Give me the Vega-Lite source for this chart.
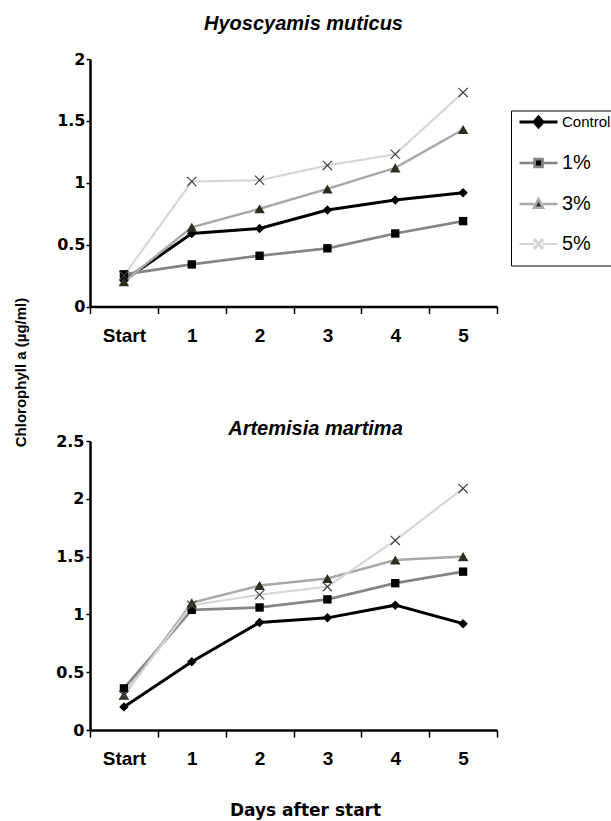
{
  "$schema": "https://vega.github.io/schema/vega-lite/v6.json",
  "background": "white",
  "padding": {"left": 13, "top": 14, "right": 0, "bottom": 5},
  "bounds": "flush",
  "spacing": 134,
  "config": {
    "view": {"stroke": null},
    "font": "Liberation Sans",
    "axis": {
      "grid": false,
      "domainColor": "black",
      "domainWidth": 2.5,
      "tickColor": "black",
      "tickWidth": 1.5,
      "labelColor": "black",
      "labelFontWeight": "bold",
      "titleColor": "black"
    }
  },
  "data": {
    "values": [
      {"plant": "Hyoscyamis muticus", "series": "Control", "day": 0, "value": 0.21},
      {"plant": "Hyoscyamis muticus", "series": "Control", "day": 1, "value": 0.59},
      {"plant": "Hyoscyamis muticus", "series": "Control", "day": 2, "value": 0.63},
      {"plant": "Hyoscyamis muticus", "series": "Control", "day": 3, "value": 0.78},
      {"plant": "Hyoscyamis muticus", "series": "Control", "day": 4, "value": 0.86},
      {"plant": "Hyoscyamis muticus", "series": "Control", "day": 5, "value": 0.92},
      {"plant": "Hyoscyamis muticus", "series": "1%", "day": 0, "value": 0.26},
      {"plant": "Hyoscyamis muticus", "series": "1%", "day": 1, "value": 0.34},
      {"plant": "Hyoscyamis muticus", "series": "1%", "day": 2, "value": 0.41},
      {"plant": "Hyoscyamis muticus", "series": "1%", "day": 3, "value": 0.47},
      {"plant": "Hyoscyamis muticus", "series": "1%", "day": 4, "value": 0.59},
      {"plant": "Hyoscyamis muticus", "series": "1%", "day": 5, "value": 0.69},
      {"plant": "Hyoscyamis muticus", "series": "3%", "day": 0, "value": 0.2},
      {"plant": "Hyoscyamis muticus", "series": "3%", "day": 1, "value": 0.64},
      {"plant": "Hyoscyamis muticus", "series": "3%", "day": 2, "value": 0.79},
      {"plant": "Hyoscyamis muticus", "series": "3%", "day": 3, "value": 0.95},
      {"plant": "Hyoscyamis muticus", "series": "3%", "day": 4, "value": 1.12},
      {"plant": "Hyoscyamis muticus", "series": "3%", "day": 5, "value": 1.43},
      {"plant": "Hyoscyamis muticus", "series": "5%", "day": 0, "value": 0.25},
      {"plant": "Hyoscyamis muticus", "series": "5%", "day": 1, "value": 1.01},
      {"plant": "Hyoscyamis muticus", "series": "5%", "day": 2, "value": 1.02},
      {"plant": "Hyoscyamis muticus", "series": "5%", "day": 3, "value": 1.14},
      {"plant": "Hyoscyamis muticus", "series": "5%", "day": 4, "value": 1.23},
      {"plant": "Hyoscyamis muticus", "series": "5%", "day": 5, "value": 1.73},
      {"plant": "Artemisia martima", "series": "Control", "day": 0, "value": 0.2},
      {"plant": "Artemisia martima", "series": "Control", "day": 1, "value": 0.59},
      {"plant": "Artemisia martima", "series": "Control", "day": 2, "value": 0.93},
      {"plant": "Artemisia martima", "series": "Control", "day": 3, "value": 0.97},
      {"plant": "Artemisia martima", "series": "Control", "day": 4, "value": 1.08},
      {"plant": "Artemisia martima", "series": "Control", "day": 5, "value": 0.92},
      {"plant": "Artemisia martima", "series": "1%", "day": 0, "value": 0.36},
      {"plant": "Artemisia martima", "series": "1%", "day": 1, "value": 1.04},
      {"plant": "Artemisia martima", "series": "1%", "day": 2, "value": 1.06},
      {"plant": "Artemisia martima", "series": "1%", "day": 3, "value": 1.13},
      {"plant": "Artemisia martima", "series": "1%", "day": 4, "value": 1.27},
      {"plant": "Artemisia martima", "series": "1%", "day": 5, "value": 1.37},
      {"plant": "Artemisia martima", "series": "3%", "day": 0, "value": 0.3},
      {"plant": "Artemisia martima", "series": "3%", "day": 1, "value": 1.1},
      {"plant": "Artemisia martima", "series": "3%", "day": 2, "value": 1.25},
      {"plant": "Artemisia martima", "series": "3%", "day": 3, "value": 1.31},
      {"plant": "Artemisia martima", "series": "3%", "day": 4, "value": 1.47},
      {"plant": "Artemisia martima", "series": "3%", "day": 5, "value": 1.5},
      {"plant": "Artemisia martima", "series": "5%", "day": 0, "value": 0.3},
      {"plant": "Artemisia martima", "series": "5%", "day": 1, "value": 1.08},
      {"plant": "Artemisia martima", "series": "5%", "day": 2, "value": 1.17},
      {"plant": "Artemisia martima", "series": "5%", "day": 3, "value": 1.24},
      {"plant": "Artemisia martima", "series": "5%", "day": 4, "value": 1.64},
      {"plant": "Artemisia martima", "series": "5%", "day": 5, "value": 2.09}
    ]
  },
  "resolve": {
    "scale": {"x": "independent", "y": "independent", "stroke": "shared", "strokeWidth": "shared"},
    "legend": {"stroke": "shared"}
  },
  "vconcat": [
    {
      "width": 407,
      "height": 247.5,
      "title": {
        "text": "Hyoscyamis muticus",
        "font": "Liberation Sans",
        "fontSize": 20,
        "fontStyle": "italic",
        "fontWeight": "bold",
        "color": "black",
        "frame": "group",
        "baseline": "alphabetic",
        "offset": 1,
        "dx": 10
      },
      "transform": [{"filter": "datum.plant === 'Hyoscyamis muticus'"}],
      "encoding": {
        "x": {
          "field": "day",
          "type": "ordinal",
          "scale": {"type": "band", "paddingInner": 0, "paddingOuter": 0},
          "axis": {
            "title": null,
            "labelAngle": 0,
            "tickBand": "extent",
            "tickSize": 7,
            "labelPadding": 22,
            "labelBaseline": "middle",
            "labelFont": "Liberation Sans",
            "labelFontSize": 19,
            "labelExpr": "datum.value == 0 ? 'Start' : datum.label",
            "encode": {
              "labels": {
                "update": {
                  "dx": {"signal": "datum.value == 2 ? -7 : datum.value == 3 ? -6 : datum.value == 5 ? -2 : 0"}
                }
              }
            }
          }
        },
        "y": {
          "field": "value",
          "type": "quantitative",
          "scale": {"domain": [0, 2], "nice": false, "zero": true},
          "axis": {
            "values": [0, 0.5, 1, 1.5, 2],
            "format": "~g",
            "tickSize": 4,
            "labelPadding": 1,
            "labelFont": "DejaVu Sans",
            "labelFontSize": 16,
            "title": "Chlorophyll a (µg/ml)",
            "titleFont": "Liberation Sans",
            "titleFontSize": 15,
            "titleFontWeight": "bold",
            "titleAngle": -90,
            "titleAlign": "center",
            "titleBaseline": "middle",
            "titleX": -70,
            "titleY": 313
          }
        }
      },
      "layer": [
        {
          "mark": {"type": "line"},
          "encoding": {
            "stroke": {
              "field": "series",
              "type": "nominal",
              "scale": {"domain": ["Control", "1%", "3%", "5%"], "range": ["#000000", "#858585", "#a8a8a8", "#d6d6d6"]},
              "legend": {
                "title": null,
                "orient": "none",
                "legendX": 421,
                "legendY": 51.5,
                "strokeColor": "black",
                "fillColor": "white",
                "padding": 1,
                "rowPadding": 9,
                "symbolSize": 324,
                "labelOffset": 29,
                "labelFont": "Liberation Sans",
                "labelFontSize": 20,
                "labelColor": "black",
                "encode": {
                  "symbols": {
                    "update": {
                      "shape": {"signal": "datum.value === 'Control' ? 'M-0.333,0H3.89M1.78,-0.55L2.28,0L1.78,0.55L1.28,0ZM0,1.72' : datum.value === '1%' ? 'M-0.333,0H1.3M2.26,0H3.89M1.34,-0.44H2.22V0.44H1.34ZM0,1.72' : datum.value === '3%' ? 'M-0.333,0H1.3M2.26,0H3.89M1.78,-0.56L2.28,0.42H1.28ZM0,1.72' : 'M-0.333,0H1.28M2.28,0H3.89M1.28,-0.4L1.38,-0.5L2.28,0.4L2.18,0.5ZM1.28,0.4L2.18,-0.5L2.28,-0.4L1.38,0.5ZM0,1.72'"},
                      "fill": {"signal": "datum.value === '3%' ? '#2e2e1e' : datum.value === '5%' ? '#404040' : '#000000'"},
                      "stroke": {"signal": "datum.value === 'Control' ? '#000000' : datum.value === '1%' ? '#858585' : datum.value === '3%' ? '#a8a8a8' : '#d6d6d6'"},
                      "strokeWidth": {"signal": "datum.value === 'Control' ? 3 : 2"},
                      "opacity": {"value": 1}
                    }
                  },
                  "labels": {
                    "update": {
                      "fontSize": {"signal": "datum.value === 'Control' ? 15 : 20"}
                    }
                  }
                }
              }
            },
            "strokeWidth": {
              "field": "series",
              "type": "nominal",
              "scale": {"domain": ["Control", "1%", "3%", "5%"], "range": [3, 2.2, 2.2, 2]},
              "legend": null
            }
          }
        },
        {
          "transform": [{"filter": "datum.series === 'Control'"}],
          "mark": {"type": "point", "shape": "diamond", "filled": true, "fill": "#000000", "opacity": 1, "size": 90, "strokeWidth": 0}
        },
        {
          "transform": [{"filter": "datum.series === '1%'"}],
          "mark": {"type": "point", "shape": "square", "filled": true, "fill": "#000000", "opacity": 1, "size": 70, "strokeWidth": 0}
        },
        {
          "transform": [{"filter": "datum.series === '3%'"}],
          "mark": {"type": "point", "shape": "triangle-up", "filled": true, "fill": "#2e2e1e", "opacity": 1, "size": 110, "strokeWidth": 0}
        },
        {
          "transform": [{"filter": "datum.series === '5%'"}],
          "mark": {"type": "point", "shape": "M-1.2,-1L-1,-1.2L1.2,1L1,1.2ZM-1.2,1L1,-1.2L1.2,-1L-1,1.2Z", "filled": true, "fill": "#404040", "opacity": 1, "size": 70, "strokeWidth": 0}
        }
      ]
    },
    {
      "width": 407,
      "height": 289,
      "title": {
        "text": "Artemisia martima",
        "font": "Liberation Sans",
        "fontSize": 20,
        "fontStyle": "italic",
        "fontWeight": "bold",
        "color": "black",
        "frame": "group",
        "baseline": "alphabetic",
        "offset": -22,
        "dx": 22
      },
      "transform": [{"filter": "datum.plant === 'Artemisia martima'"}],
      "encoding": {
        "x": {
          "field": "day",
          "type": "ordinal",
          "scale": {"type": "band", "paddingInner": 0, "paddingOuter": 0},
          "axis": {
            "title": "Days after start",
            "titleFont": "DejaVu Sans",
            "titleFontSize": 17,
            "titleFontWeight": "bold",
            "titleAlign": "center",
            "titleBaseline": "alphabetic",
            "titleX": 215,
            "titleY": 85,
            "labelAngle": 0,
            "tickBand": "extent",
            "tickSize": 7,
            "labelPadding": 21,
            "labelBaseline": "middle",
            "labelFont": "Liberation Sans",
            "labelFontSize": 19,
            "labelExpr": "datum.value == 0 ? 'Start' : datum.label",
            "encode": {
              "labels": {
                "update": {
                  "dx": {"signal": "datum.value == 0 ? 9 : datum.value == 1 ? 16 : datum.value == 2 ? 3 : 0"}
                }
              }
            }
          }
        },
        "y": {
          "field": "value",
          "type": "quantitative",
          "scale": {"domain": [0, 2.5], "nice": false, "zero": true},
          "axis": {
            "values": [0, 0.5, 1, 1.5, 2, 2.5],
            "format": "~g",
            "tickSize": 4,
            "labelPadding": 2,
            "labelFont": "DejaVu Sans",
            "labelFontSize": 16,
            "title": null
          }
        }
      },
      "layer": [
        {
          "mark": {"type": "line"},
          "encoding": {
            "stroke": {"field": "series", "type": "nominal"},
            "strokeWidth": {"field": "series", "type": "nominal", "legend": null}
          }
        },
        {
          "transform": [{"filter": "datum.series === 'Control'"}],
          "mark": {"type": "point", "shape": "diamond", "filled": true, "fill": "#000000", "opacity": 1, "size": 90, "strokeWidth": 0}
        },
        {
          "transform": [{"filter": "datum.series === '1%'"}],
          "mark": {"type": "point", "shape": "square", "filled": true, "fill": "#000000", "opacity": 1, "size": 70, "strokeWidth": 0}
        },
        {
          "transform": [{"filter": "datum.series === '3%'"}],
          "mark": {"type": "point", "shape": "triangle-up", "filled": true, "fill": "#2e2e1e", "opacity": 1, "size": 110, "strokeWidth": 0}
        },
        {
          "transform": [{"filter": "datum.series === '5%'"}],
          "mark": {"type": "point", "shape": "M-1.2,-1L-1,-1.2L1.2,1L1,1.2ZM-1.2,1L1,-1.2L1.2,-1L-1,1.2Z", "filled": true, "fill": "#404040", "opacity": 1, "size": 70, "strokeWidth": 0}
        }
      ]
    }
  ]
}
